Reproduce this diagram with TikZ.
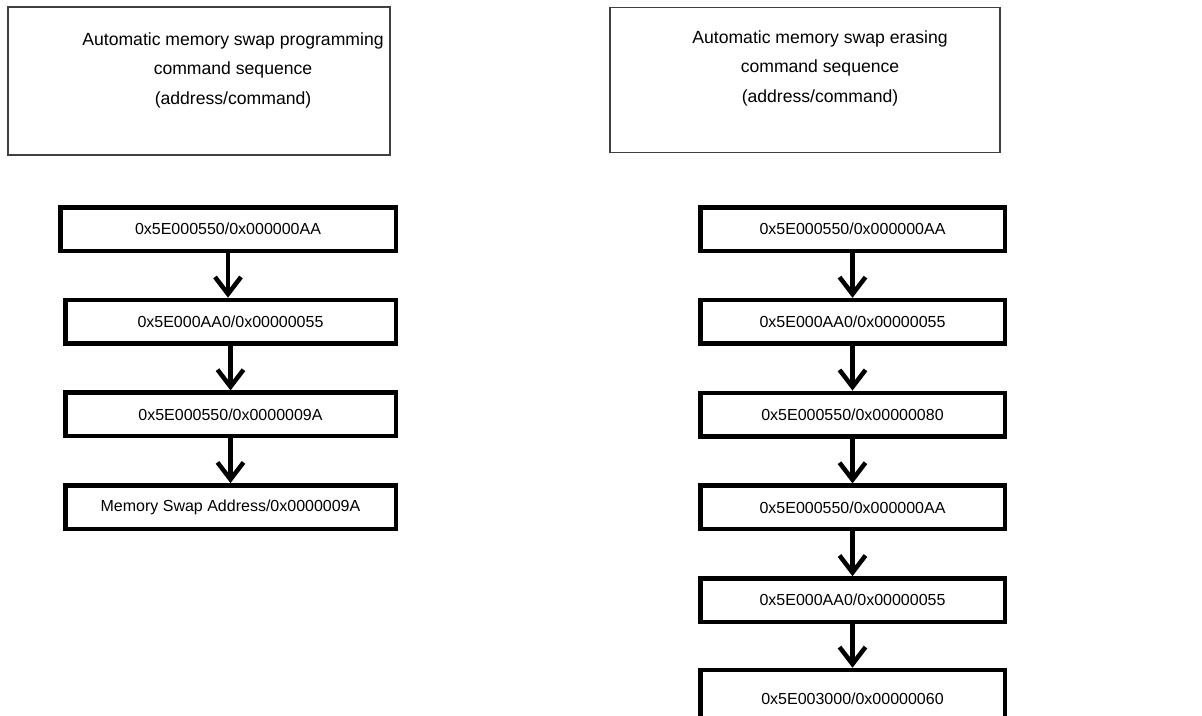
\documentclass[tikz,border=0pt]{standalone}
\usepackage{fontspec}
\setmainfont{Liberation Sans}
\usetikzlibrary{arrows.meta}

\begin{document}
\begin{tikzpicture}[x=1pt,y=-1pt,
  titlebox/.style={draw=black!75, line width=1.2pt, inner sep=0pt},
  titletext/.style={align=center, font=\fontsize{17.6}{29.5}\selectfont},
  flowbox/.style={draw, line width=4.5pt, minimum height=43.5pt, inner sep=0pt, font=\fontsize{16}{18}\selectfont},
  flowarrow/.style={line width=4.5pt, -{Straight Barb[length=17pt, width=26pt]}}]
  \clip (0,0) rectangle (1202,715);
  % titles
  \node[titlebox, minimum width=382pt, minimum height=148pt] (ptitle) at (199,81) {};
  \node[titletext] (ptext) at (233,70) {Automatic memory swap programming\\command sequence\\(address/command)};
  \node[titlebox, minimum width=390pt, minimum height=145pt] (etitle) at (805,80) {};
  \node[titletext] (etext) at (820,68) {Automatic memory swap erasing\\command sequence\\(address/command)};
  % programming sequence
  \node[flowbox, minimum width=335.5pt] (p1) at (228,229) {0x5E000550/0x000000AA};
  \foreach \t [count=\i from 2] in {0x5E000AA0/0x00000055, 0x5E000550/0x0000009A, Memory Swap Address/0x0000009A} {
    \pgfmathsetmacro{\y}{229 + (\i-1) * 92.7}
    \node[flowbox, minimum width=330.5pt] (p\i) at (230.5,\y) {\t};
  }
  \foreach \i in {1,2,3} {
    \pgfmathtruncatemacro{\j}{\i+1}
    \draw[flowarrow] (p\i.south) -- (p\i.south |- p\j.north);
  }
  % erasing sequence
  \foreach \t [count=\i] in {0x5E000550/0x000000AA, 0x5E000AA0/0x00000055, 0x5E000550/0x00000080, 0x5E000550/0x000000AA, 0x5E000AA0/0x00000055} {
    \pgfmathsetmacro{\y}{229 + (\i-1) * 92.8}
    \node[flowbox, minimum width=304.5pt] (e\i) at (852.5,\y) {\t};
  }
  \node[flowbox, minimum width=304.5pt, minimum height=52pt, text depth=0pt] (e6) at (852.5,696) {\raisebox{-6pt}{0x5E003000/0x00000060}};
  \foreach \i in {1,...,5} {
    \pgfmathtruncatemacro{\j}{\i+1}
    \draw[flowarrow] (e\i.south) -- (e\i.south |- e\j.north);
  }
\end{tikzpicture}
\end{document}
